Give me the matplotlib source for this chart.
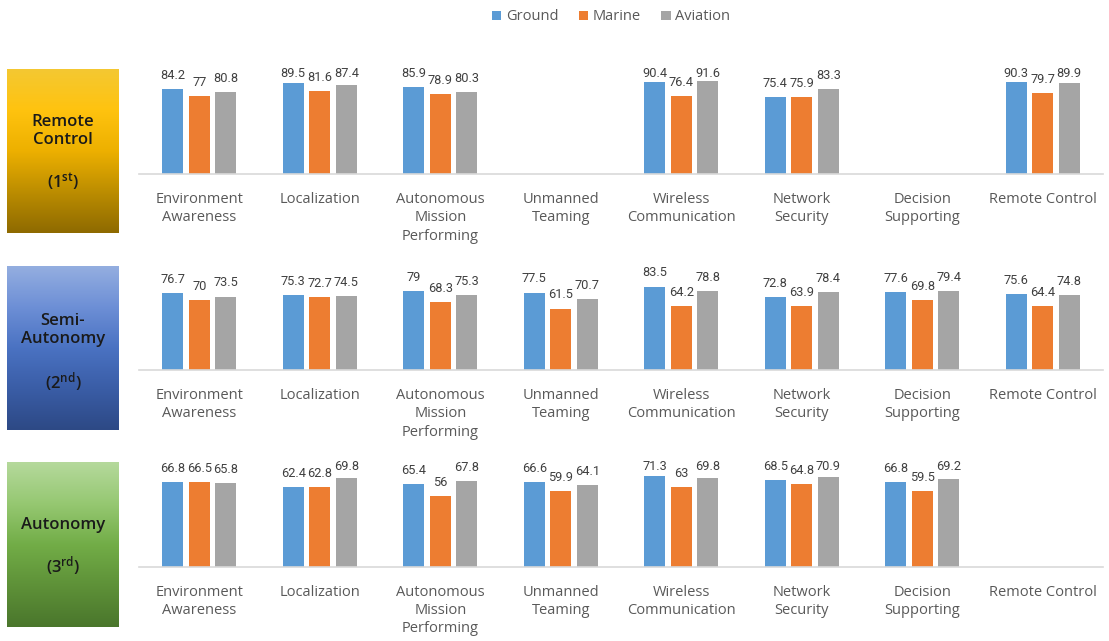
import numpy as np
import matplotlib
matplotlib.use("Agg")
import matplotlib.pyplot as plt
from matplotlib.colors import LinearSegmentedColormap
from matplotlib.patches import Patch
from matplotlib import font_manager

# ---------------- data ----------------
categories = ["Environment\nAwareness", "Localization", "Autonomous\nMission\nPerforming",
              "Unmanned\nTeaming", "Wireless\nCommunication", "Network\nSecurity",
              "Decision\nSupporting", "Remote Control"]
series_names = ["Ground", "Marine", "Aviation"]
series_colors = ["#5B9BD5", "#ED7D31", "#A5A5A5"]

nan = np.nan
remote_ground = [84.2, 89.5, 85.9, nan, 90.4, 75.4, nan, 90.3]
remote_marine = [77, 81.6, 78.9, nan, 76.4, 75.9, nan, 79.7]
remote_aviation = [80.8, 87.4, 80.3, nan, 91.6, 83.3, nan, 89.9]

semi_ground = [76.7, 75.3, 79, 77.5, 83.5, 72.8, 77.6, 75.6]
semi_marine = [70, 72.7, 68.3, 61.5, 64.2, 63.9, 69.8, 64.4]
semi_aviation = [73.5, 74.5, 75.3, 70.7, 78.8, 78.4, 79.4, 74.8]

auto_ground = [66.8, 62.4, 65.4, 66.6, 71.3, 68.5, 66.8, nan]
auto_marine = [66.5, 62.8, 56, 59.9, 63, 64.8, 59.5, nan]
auto_aviation = [65.8, 69.8, 67.8, 64.1, 69.8, 70.9, 69.2, nan]

row_titles = ["Remote\nControl", "Semi-\nAutonomy", "Autonomy"]
row_orders = [r"$\mathregular{(1^{st})}$", r"$\mathregular{(2^{nd})}$", r"$\mathregular{(3^{rd})}$"]
rows = [
    [remote_ground, remote_marine, remote_aviation],
    [semi_ground, semi_marine, semi_aviation],
    [auto_ground, auto_marine, auto_aviation],
]
row_ymax = [100, 100, 80]

# ---------------- layout ----------------
W, H = 1109, 641
plt.rcParams['font.family'] = ['Open Sans', 'DejaVu Sans']
fig = plt.figure(figsize=(W / 100, H / 100), dpi=100)
fig.patch.set_facecolor("white")

installed = {f.name for f in font_manager.fontManager.ttflist}
if "Liberation Sans Narrow" in installed:
    label_font, label_size = ["Liberation Sans Narrow", "DejaVu Sans"], 10
else:
    label_font, label_size = ["Roboto", "DejaVu Sans"], 9.2


def px_rect(x0, y0, x1, y1):
    return [x0 / W, 1 - y1 / H, (x1 - x0) / W, (y1 - y0) / H]


row_baseline = [174, 370, 566.7]
row_height = [101.5, 100, 101.6]
ax_x0, ax_x1 = 139, 1103

step = 0.22
bw = 0.177
x = np.arange(len(categories))

for r, (vals, ymax) in enumerate(zip(rows, row_ymax)):
    base = row_baseline[r]
    hpx = row_height[r]
    ax = fig.add_axes(px_rect(ax_x0, base - hpx, ax_x1, base))
    ax.set_xlim(-0.5, len(categories) - 0.5)
    ax.set_ylim(0, ymax)
    scale = hpx / ymax
    gap = 10 / scale
    cap = ymax * 0.955
    for s, (v, c) in enumerate(zip(vals, series_colors)):
        v = np.array(v, dtype=float)
        pos = x + (s - 1) * step
        ax.bar(pos, np.nan_to_num(v), width=bw, color=c, zorder=2)
        for xi, vi in zip(pos, v):
            if np.isnan(vi):
                continue
            ax.text(xi, min(vi + gap, cap), f"{vi:g}", ha="center", va="baseline",
                    fontsize=label_size, color="#404040", family=label_font, clip_on=False)
    for sp in ["top", "left", "right"]:
        ax.spines[sp].set_visible(False)
    ax.spines["bottom"].set_color("#D9D9D9")
    ax.spines["bottom"].set_linewidth(1.2)
    ax.set_yticks([])
    ax.set_xticks(x)
    ax.set_xticklabels(categories, fontsize=10.5, color="#595959", linespacing=1.3)
    ax.tick_params(axis="x", length=0, pad=13)
    ax.patch.set_alpha(0)

# ---------------- left gradient boxes ----------------
box_rects = [(7, 69, 119, 233), (7, 266, 119, 430), (7, 462, 119, 627)]
box_cmaps = [
    ["#F4C832", "#FFC30F", "#EDB000", "#BC8D00", "#8E6A00"],
    ["#94AEE0", "#6D8FD6", "#4A72C2", "#3A5DA6", "#2D4985"],
    ["#B5D99C", "#96C872", "#72AD47", "#5E9138", "#4A762C"],
]
title_y = [131, 330, 525]
order_y = [182, 382, 566]
grad = np.linspace(0, 1, 256).reshape(-1, 1)
for (x0, y0, x1, y1), cols, ty, oy, t, o in zip(box_rects, box_cmaps, title_y, order_y,
                                              row_titles, row_orders):
    bax = fig.add_axes(px_rect(x0, y0, x1, y1))
    cmap = LinearSegmentedColormap.from_list("g", cols)
    bax.imshow(grad, cmap=cmap, aspect="auto", extent=[0, 1, 0, 1], origin="upper")
    bax.set_axis_off()
    cx = (x0 + x1) / 2
    fig.text(cx / W, 1 - ty / H, t, ha="center", va="center", fontsize=12,
             color="#1A1A1A", fontweight="semibold", linespacing=1.2)
    fig.text(cx / W, 1 - oy / H, o, ha="center", va="center", fontsize=12,
             color="#1A1A1A", fontweight="semibold")

# ---------------- legend ----------------
handles = [Patch(facecolor=c, edgecolor="none") for c in series_colors]
fig.legend(handles, series_names, loc="center", bbox_to_anchor=(611 / W, 1 - 17 / H),
           ncol=3, frameon=False, fontsize=10.5, labelcolor="#595959",
           handlelength=0.65, handleheight=0.65, handletextpad=0.3, columnspacing=1.4)

fig.savefig("out.png", dpi=100, facecolor="white")
